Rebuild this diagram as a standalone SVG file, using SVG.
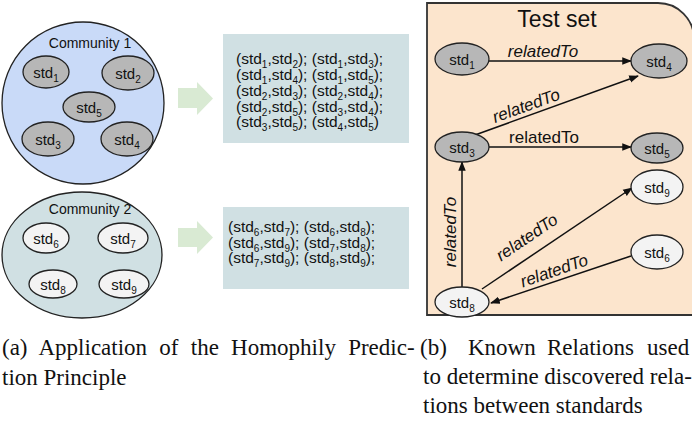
<svg xmlns="http://www.w3.org/2000/svg" width="692" height="421" viewBox="0 0 692 421">
<defs>
<style>
.comm1{fill:#c9daf8;stroke:#222;stroke-width:1.3}
.comm2{fill:#d0e0e3;stroke:#222;stroke-width:1.3}
.gray{fill:#b7b7b7;stroke:#222;stroke-width:1.3}
.light{fill:#f3f3f3;stroke:#222;stroke-width:1.3}
.box{fill:#d0e0e3}
.garrow{fill:#d9ead3}
.lbl{font-family:"Liberation Sans",Arial,sans-serif;font-size:15px;fill:#111;text-anchor:middle}
.title{font-family:"Liberation Sans",Arial,sans-serif;font-size:14px;fill:#111;text-anchor:middle}
.pairs{font-family:"Liberation Sans",Arial,sans-serif;font-size:15.5px;fill:#111}
.rel{font-family:"Liberation Sans",Arial,sans-serif;font-size:17px;fill:#111;text-anchor:middle}
.it{font-style:italic}
.edge{stroke:#111;stroke-width:1.5;fill:none;marker-end:url(#ah)}
.cap{font-family:"Liberation Serif","Times New Roman",serif;font-size:23px;fill:#111}
</style>
<marker id="ah" viewBox="0 0 10 10" refX="9" refY="5" markerWidth="6.5" markerHeight="6.5" orient="auto" markerUnits="strokeWidth">
<path d="M0,1.2 L10,5 L0,8.8 Z" fill="#111"/>
</marker>
</defs>

<!-- Community 1 -->
<g id="community1">
<ellipse class="comm1" cx="83" cy="103" rx="81" ry="81"/>
<text class="title" x="90" y="48">Community 1</text>
</g>
<g id="c1_std1"><ellipse class="gray" cx="46" cy="72" rx="23" ry="16"/><text class="lbl" x="46" y="78">std<tspan font-size="10" dy="4">1</tspan></text></g>
<g id="c1_std2"><ellipse class="gray" cx="128" cy="73" rx="26" ry="17"/><text class="lbl" x="128" y="79">std<tspan font-size="10" dy="4">2</tspan></text></g>
<g id="c1_std5"><ellipse class="gray" cx="89" cy="107" rx="26" ry="15"/><text class="lbl" x="89" y="113">std<tspan font-size="10" dy="4">5</tspan></text></g>
<g id="c1_std3"><ellipse class="gray" cx="48" cy="139" rx="26" ry="17"/><text class="lbl" x="48" y="145">std<tspan font-size="10" dy="4">3</tspan></text></g>
<g id="c1_std4"><ellipse class="gray" cx="127" cy="139" rx="26" ry="17"/><text class="lbl" x="127" y="145">std<tspan font-size="10" dy="4">4</tspan></text></g>

<!-- Community 2 -->
<g id="community2">
<ellipse class="comm2" cx="82" cy="255" rx="80" ry="63"/>
<text class="title" x="90" y="214">Community 2</text>
</g>
<g id="c2_std6"><ellipse class="light" cx="46" cy="238" rx="23" ry="15"/><text class="lbl" x="46" y="244">std<tspan font-size="10" dy="4">6</tspan></text></g>
<g id="c2_std7"><ellipse class="light" cx="123" cy="238" rx="25" ry="15"/><text class="lbl" x="123" y="244">std<tspan font-size="10" dy="4">7</tspan></text></g>
<g id="c2_std8"><ellipse class="light" cx="53" cy="284" rx="24" ry="14"/><text class="lbl" x="53" y="290">std<tspan font-size="10" dy="4">8</tspan></text></g>
<g id="c2_std9"><ellipse class="light" cx="124" cy="284" rx="25" ry="14"/><text class="lbl" x="124" y="290">std<tspan font-size="10" dy="4">9</tspan></text></g>

<!-- Green arrows -->
<g id="arrow1"><polygon class="garrow" points="178,88 197,88 197,82 213,98.5 197,115 197,108 178,108"/></g>
<g id="arrow2"><polygon class="garrow" points="178,228 197,228 197,221 213,237.5 197,254 197,247 178,247"/></g>

<!-- Pair boxes -->
<g id="pairs1">
<rect class="box" x="223" y="34" width="186" height="109"/>
<text class="pairs" x="236" y="63.5">(std<tspan font-size="10" dy="4">1</tspan><tspan dy="-4">,std</tspan><tspan font-size="10" dy="4">2</tspan><tspan dy="-4">); (std</tspan><tspan font-size="10" dy="4">1</tspan><tspan dy="-4">,std</tspan><tspan font-size="10" dy="4">3</tspan><tspan dy="-4">);</tspan></text>
<text class="pairs" x="236" y="79.5">(std<tspan font-size="10" dy="4">1</tspan><tspan dy="-4">,std</tspan><tspan font-size="10" dy="4">4</tspan><tspan dy="-4">); (std</tspan><tspan font-size="10" dy="4">1</tspan><tspan dy="-4">,std</tspan><tspan font-size="10" dy="4">5</tspan><tspan dy="-4">);</tspan></text>
<text class="pairs" x="236" y="95.5">(std<tspan font-size="10" dy="4">2</tspan><tspan dy="-4">,std</tspan><tspan font-size="10" dy="4">3</tspan><tspan dy="-4">); (std</tspan><tspan font-size="10" dy="4">2</tspan><tspan dy="-4">,std</tspan><tspan font-size="10" dy="4">4</tspan><tspan dy="-4">);</tspan></text>
<text class="pairs" x="236" y="111.5">(std<tspan font-size="10" dy="4">2</tspan><tspan dy="-4">,std</tspan><tspan font-size="10" dy="4">5</tspan><tspan dy="-4">); (std</tspan><tspan font-size="10" dy="4">3</tspan><tspan dy="-4">,std</tspan><tspan font-size="10" dy="4">4</tspan><tspan dy="-4">);</tspan></text>
<text class="pairs" x="236" y="127">(std<tspan font-size="10" dy="4">3</tspan><tspan dy="-4">,std</tspan><tspan font-size="10" dy="4">5</tspan><tspan dy="-4">); (std</tspan><tspan font-size="10" dy="4">4</tspan><tspan dy="-4">,std</tspan><tspan font-size="10" dy="4">5</tspan><tspan dy="-4">)</tspan></text>
</g>
<g id="pairs2">
<rect class="box" x="223" y="207" width="186" height="82"/>
<text class="pairs" x="228" y="232">(std<tspan font-size="10" dy="4">6</tspan><tspan dy="-4">,std</tspan><tspan font-size="10" dy="4">7</tspan><tspan dy="-4">); (std</tspan><tspan font-size="10" dy="4">6</tspan><tspan dy="-4">,std</tspan><tspan font-size="10" dy="4">8</tspan><tspan dy="-4">);</tspan></text>
<text class="pairs" x="228" y="247.5">(std<tspan font-size="10" dy="4">6</tspan><tspan dy="-4">,std</tspan><tspan font-size="10" dy="4">9</tspan><tspan dy="-4">); (std</tspan><tspan font-size="10" dy="4">7</tspan><tspan dy="-4">,std</tspan><tspan font-size="10" dy="4">8</tspan><tspan dy="-4">);</tspan></text>
<text class="pairs" x="228" y="263">(std<tspan font-size="10" dy="4">7</tspan><tspan dy="-4">,std</tspan><tspan font-size="10" dy="4">9</tspan><tspan dy="-4">); (std</tspan><tspan font-size="10" dy="4">8</tspan><tspan dy="-4">,std</tspan><tspan font-size="10" dy="4">9</tspan><tspan dy="-4">);</tspan></text>
</g>

<!-- Test set panel -->
<g id="testset">
<path d="M427,3 H658 A36,36 0 0 1 694,39 V315 H427 Z" fill="#fce5cd" stroke="#333" stroke-width="1.8"/>
<text x="557" y="27" font-family="'Liberation Sans',Arial,sans-serif" font-size="23" fill="#111" text-anchor="middle">Test set</text>
</g>

<!-- Connectors -->
<g id="connectors">
<line class="edge" x1="489" y1="61" x2="631" y2="61"/>
<line class="edge" x1="475" y1="135" x2="638" y2="76"/>
<line class="edge" x1="489" y1="147" x2="631" y2="147"/>
<line class="edge" x1="462" y1="287" x2="462" y2="162"/>
<line class="edge" x1="482" y1="289" x2="632" y2="188"/>
<line class="edge" x1="631" y1="256" x2="491" y2="303"/>
<text class="rel it" x="543" y="57">relatedTo</text>
<text class="rel it" transform="translate(528,111) rotate(-20)" x="0" y="0">relatedTo</text>
<text class="rel" x="544" y="143">relatedTo</text>
<text class="rel it" transform="translate(456,232) rotate(-90)" x="0" y="0">relatedTo</text>
<text class="rel it" transform="translate(530,242) rotate(-34)" x="0" y="0">relatedTo</text>
<text class="rel it" transform="translate(556,276) rotate(-19)" x="0" y="0">relatedTo</text>
</g>

<!-- Test set nodes -->
<g id="t_std1"><ellipse class="gray" cx="462" cy="59" rx="27" ry="16"/><text class="lbl" x="462" y="65">std<tspan font-size="10" dy="4">1</tspan></text></g>
<g id="t_std4"><ellipse class="gray" cx="659" cy="61" rx="28" ry="17"/><text class="lbl" x="659" y="67">std<tspan font-size="10" dy="4">4</tspan></text></g>
<g id="t_std3"><ellipse class="gray" cx="462" cy="147" rx="27" ry="15"/><text class="lbl" x="462" y="153">std<tspan font-size="10" dy="4">3</tspan></text></g>
<g id="t_std5"><ellipse class="gray" cx="657" cy="148" rx="26" ry="15"/><text class="lbl" x="657" y="154">std<tspan font-size="10" dy="4">5</tspan></text></g>
<g id="t_std9"><ellipse class="light" cx="657" cy="187" rx="26" ry="17"/><text class="lbl" x="657" y="193">std<tspan font-size="10" dy="4">9</tspan></text></g>
<g id="t_std6"><ellipse class="light" cx="657" cy="252" rx="26" ry="17"/><text class="lbl" x="657" y="258">std<tspan font-size="10" dy="4">6</tspan></text></g>
<g id="t_std8"><ellipse class="light" cx="462" cy="302" rx="27" ry="15"/><text class="lbl" x="462" y="308">std<tspan font-size="10" dy="4">8</tspan></text></g>

<!-- Captions -->
<g id="captions">
<text class="cap" x="2" y="355" word-spacing="6.5">(a) Application of the Homophily Predic-</text>
<text class="cap" x="2" y="385">tion Principle</text>
<text class="cap" y="355"><tspan x="420">(b)</tspan><tspan x="468">Known</tspan><tspan x="547">Relations</tspan><tspan x="647">used</tspan></text>
<text class="cap" x="423" y="384">to determine discovered rela-</text>
<text class="cap" x="423" y="413">tions between standards</text>
</g>
</svg>
